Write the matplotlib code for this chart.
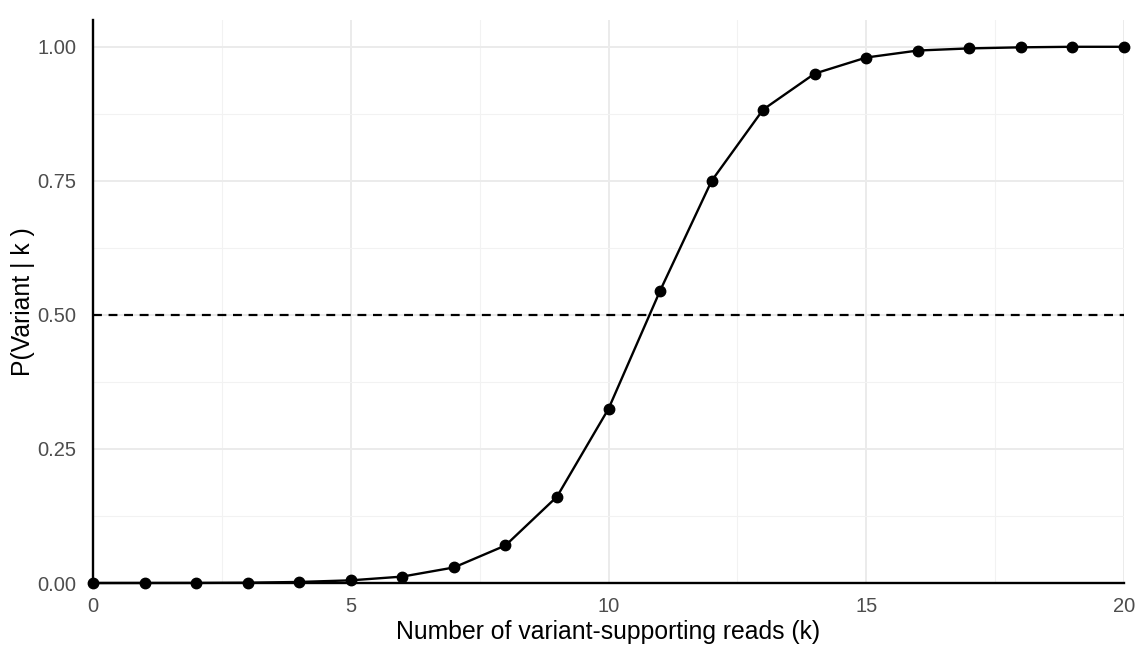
import numpy as np
import matplotlib
matplotlib.use('Agg')
import matplotlib.pyplot as plt
from matplotlib.ticker import MultipleLocator

plt.rcParams['font.family'] = ['Liberation Sans', 'DejaVu Sans']

# posterior probability per number of supporting reads
k_reads = list(range(21))
p_variant = [0.0, 0.0001, 0.0002, 0.0006, 0.002, 0.005, 0.012, 0.029, 0.070,
             0.161, 0.325, 0.545, 0.750, 0.883, 0.950, 0.980, 0.993, 0.997,
             0.999, 1.0, 1.0]
x_ticks = [0, 5, 10, 15, 20]
y_ticks = [0.0, 0.25, 0.5, 0.75, 1.0]
y_ticklabels = ['0.00', '0.25', '0.50', '0.75', '1.00']

fig = plt.figure(figsize=(11.4, 6.57), dpi=100)
ax = fig.add_axes([0.0816, 0.1126, 0.9044, 0.857])

ax.axhline(0.5, color='black', linestyle=(0, (4, 3)), linewidth=1.6, zorder=2)
ax.plot(k_reads, p_variant, color='black', linewidth=1.7, marker='o',
        markersize=7.5, clip_on=False, zorder=3)

ax.set_xlim(0, 20)
ax.set_ylim(0, 1.05)
ax.set_xticks(x_ticks)
ax.set_yticks(y_ticks)
ax.set_yticklabels(y_ticklabels)
ax.xaxis.set_minor_locator(MultipleLocator(2.5))
ax.yaxis.set_minor_locator(MultipleLocator(0.125))

ax.grid(which='major', color='#EBEBEB', linewidth=1.4)
ax.grid(which='minor', color='#F2F2F2', linewidth=0.8)
ax.set_axisbelow(True)

for side in ['top', 'right']:
    ax.spines[side].set_visible(False)
for side in ['left', 'bottom']:
    ax.spines[side].set_linewidth(1.7)
    ax.spines[side].set_color('black')

ax.tick_params(which='both', length=0, labelsize=14.5, labelcolor='#4D4D4D')
ax.tick_params(axis='y', pad=12)
ax.tick_params(axis='x', pad=10)
ax.set_xlabel('Number of variant-supporting reads (k)', fontsize=17.8, labelpad=3)
ax.set_ylabel('P(Variant | k )', fontsize=17.8, labelpad=2)

fig.savefig('out.png', dpi=100)
